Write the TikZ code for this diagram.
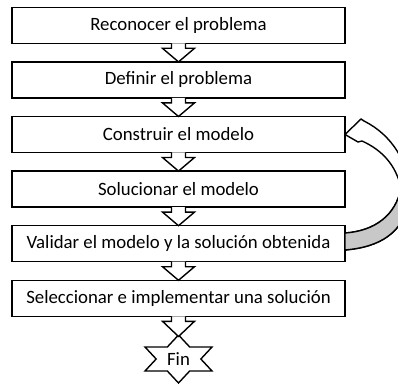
\documentclass[tikz,border=0pt]{standalone}
\usepackage{fontspec}
\setmainfont{Carlito}
\usetikzlibrary{positioning,calc}
\definecolor{BandGray}{RGB}{200,200,200}

\begin{document}
\begin{tikzpicture}[x=1pt,y=1pt,line width=1.4pt,line join=miter,
    stepbox/.style={draw,fill=white,minimum width=333pt,minimum height=36pt,
      inner sep=0pt,outer sep=0pt,font=\fontsize{18.8}{22}\selectfont},
    blockarrow/.style={draw,fill=white},
    node distance=18.6pt]
  \useasboundingbox (0,0) rectangle (398,383);
  \clip (0,0) rectangle (398,383);
  \node[stepbox] (s1) at (178.5,357.7) {Reconocer el problema};
  \node[stepbox,below=of s1] (s2) {Definir el problema};
  \node[stepbox,below=of s2] (s3) {Construir el modelo};
  \node[stepbox,below=of s3] (s4) {Solucionar el modelo};
  \node[stepbox,below=of s4] (s5) {Validar el modelo y la solución obtenida};
  \node[stepbox,below=of s5] (s6) {Seleccionar e implementar una solución};
  % estrella final
  \draw[fill=white] (178.5,48) \foreach \a in {0,60,...,240}
    { -- ({178.5+22.34*cos(\a+120)},{24+13.86*sin(\a+120)})
      -- ({178.5+38.7*cos(\a+150)},{24+24*sin(\a+150)}) }
    -- ({178.5+22.34*cos(60)},{24+13.86*sin(60)}) -- cycle;
  \node[font=\fontsize{18.8}{22}\selectfont] (fin) at (178.5,24) {Fin};
  \coordinate (fintip) at (178.5,46.5);
  % flechas de bloque
  \foreach \from/\to in {s1/s2.north,s2/s3.north,s3/s4.north,s4/s5.north,s5/s6.north,s6/fintip}
    \draw[blockarrow] ($(\from.south)+(-7,0)$) -- ++(0,-5) -- ++(-9,0) -- (\to)
      -- ($(\from.south)+(16,-5)$) -- ++(-9,0) -- ++(0,5);
  % flecha curva de retorno
  \draw[fill=white] (s3.east) -- (361,264) -- (364,262)
    .. controls (392,248) and (410,220) .. (410,185)
    .. controls (404,150) and (380,136) .. (s5.east |- 0,133) -- (s5.east |- 0,150)
    .. controls (375,152) and (396,168) .. (401,195)
    .. controls (396,218) and (382,233) .. (362,242) -- (358,241) -- cycle;
  \draw[fill=BandGray] (s5.east |- 0,133) .. controls (380,136) and (404,150) .. (410,185)
    -- (401,195) .. controls (396,168) and (375,152) .. (s5.east |- 0,150) -- cycle;
\end{tikzpicture}
\end{document}
